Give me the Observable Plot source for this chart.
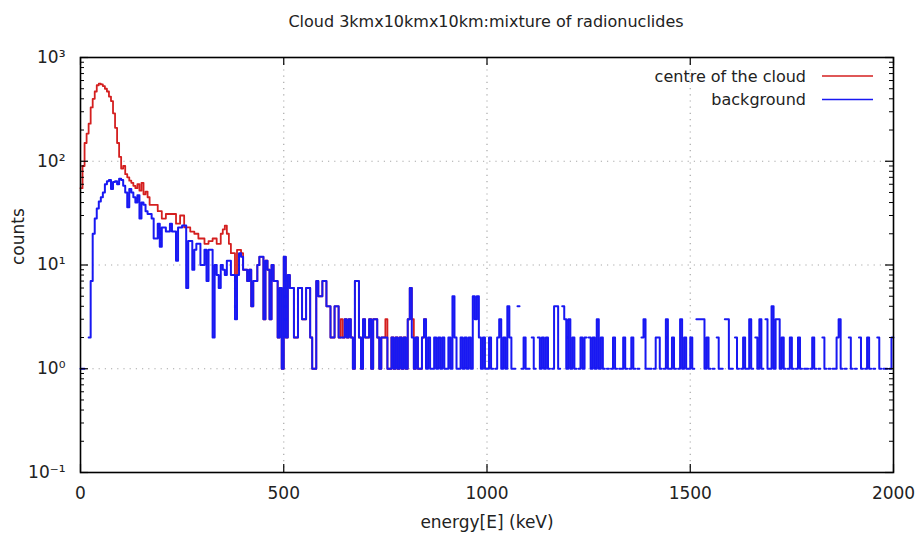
<!DOCTYPE html>
<html><head><meta charset="utf-8">
<script src="https://cdn.jsdelivr.net/npm/d3@7"></script>
<script src="https://cdn.jsdelivr.net/npm/@observablehq/plot@0.6"></script>
<style>
body{margin:0;background:#fff;font-family:"DejaVu Sans",sans-serif;}
#wrap{position:relative;width:919px;height:542px;overflow:hidden;}
#title{position:absolute;top:12px;left:486px;transform:translateX(-50%);font-size:16px;line-height:20px;white-space:nowrap;color:#222;}
#chart{position:absolute;top:40px;left:0;}
</style></head><body>
<div id="wrap"><div id="title">Cloud 3kmx10kmx10km:mixture of radionuclides</div><div id="chart"></div></div>
<script>
// bin width in keV
const BIN = 5;

// "centre of the cloud" counts, 0–500 keV (5 keV bins)
const redHead = [
  55,90,150,185,230,330,400,470,540,560,
  550,530,500,470,420,380,290,210,150,110,
  85,90,75,70,65,62,58,55,60,52,
  62,48,51,45,38,38,38,38,33,33,
  28,28,31,31,31,31,31,25,25,30,
  30,23,23,23,21,21,20,20,18,18,
  18,16,16,17,17,18,18,16,16,20,
  22,24,20,16,13,13,5,14,14,13,
  9,9,7,9,4,7,7,10,12,12,
  3,11,9,3,10,7,7,2,6,1
];
// "centre of the cloud" counts, 500–850 keV
const redTail = [
  12,2,8,6,6,2,2,6,6,3,
  3,6,6,2,1,1,7,5,5,7,
  7,4,4,2,2,4,4,2,3,2,
  3,2,3,2,1,7,7,2,1,3,
  2,2,3,1,3,3,2,1,2,2,
  3,1,1,2,1,2,1,2,1,2,
  1,3,6,3,1,2,1,1,2,3
];
// "background" counts, 0–500 keV
const blueHead = [
  1,1,0,0,2,7,20,28,35,41,
  45,50,60,64,66,54,63,64,60,68,
  66,58,50,36,54,50,45,40,47,28,
  40,38,33,31,31,28,18,18,25,15,
  23,23,21,21,25,21,21,11,23,23,
  24,24,6,17,17,9,14,16,16,10,
  10,14,7,14,14,2,10,8,6,10,
  9,8,11,11,8,8,3,8,13,12,
  9,9,7,9,4,7,7,10,12,12,
  3,11,9,3,10,7,7,2,6,1
];
// "background" counts, 500–2000 keV
const blueTail = [
  12,2,8,6,6,2,2,6,6,3,
  3,6,6,2,1,1,7,5,5,7,
  7,4,4,2,2,4,4,2,2,2,
  3,2,3,2,1,7,7,2,1,3,
  2,2,3,1,3,3,2,1,2,2,
  2,1,1,2,1,2,1,2,1,2,
  1,3,6,2,1,2,1,1,2,3,
  1,2,1,1,2,1,2,1,2,1,
  1,2,1,5,2,1,1,2,1,2,
  1,2,1,5,3,5,2,1,2,1,
  1,2,1,0,1,2,3,1,2,1,
  4,2,1,1,0,4,0,1,2,1,
  1,0,2,1,0,2,1,2,1,2,
  1,0,1,4,4,1,0,4,3,1,
  3,1,2,1,0,1,2,1,2,0,
  2,1,2,1,3,1,2,1,0,1,
  0,1,2,1,0,1,1,2,1,0,
  1,2,1,0,1,0,2,3,1,1,
  1,0,1,2,2,1,0,1,3,1,
  1,2,1,0,1,3,1,2,1,1,
  2,1,0,3,3,3,3,1,2,1,
  0,1,0,2,1,1,0,3,3,1,
  1,0,2,1,0,1,2,1,1,3,
  1,0,2,1,3,1,0,3,1,1,
  4,1,3,3,1,2,1,0,1,2,
  1,0,1,2,1,0,1,1,0,1,
  2,1,0,1,0,2,1,0,1,0,
  1,1,2,3,1,0,1,0,2,1,
  0,1,0,2,1,0,1,2,1,0,
  1,0,2,1,0,1,1,0,1,2
];

const seriesNames = ["centre of the cloud", "background"];
const seriesColors = ["#d41f1f", "#1818f2"];

const xTicks = [0, 500, 1000, 1500, 2000];
const xGrid = [500, 1000, 1500];
const yTicks = [0.1, 1, 10, 100, 1000];
const yTickLabels = ["10⁻¹", "10⁰", "10¹", "10²", "10³"];
const yGrid = [1, 10, 100];
const yMinor = [0.2,0.3,0.4,0.5,0.6,0.7,0.8,0.9, 2,3,4,5,6,7,8,9, 20,30,40,50,60,70,80,90, 200,300,400,500,600,700,800,900];

function toSteps(counts, start) {
  return counts.flatMap((c, i) => {
    const e0 = start + i * BIN, v = c > 0 ? c : NaN;
    return [{e: e0, c: v}, {e: e0 + BIN, c: v}];
  });
}
const redSteps = toSteps(redHead, 0).concat(toSteps(redTail, 500));
const blueSteps = toSteps(blueHead, 0).concat(toSteps(blueTail, 500));

const W = 919, H = 502, mL = 80, mR = 26, mT = 17, mB = 70;
const iW = W - mL - mR, iH = H - mT - mB;
const grid = {stroke: "#a8a8a8", strokeOpacity: 1, strokeDasharray: "1.2,5", strokeWidth: 1.2};
const fmt = new Map(yTicks.map((t, i) => [t, yTickLabels[i]]));

const plot = Plot.plot({
  width: W, height: H,
  marginLeft: mL, marginRight: mR, marginTop: mT, marginBottom: mB,
  style: {fontFamily: "DejaVu Sans, sans-serif", fontSize: "17px", color: "#222", background: "#fff"},
  x: {domain: [0, 2000]},
  y: {type: "log", domain: [0.1, 1000]},
  marks: [
    Plot.gridX(xGrid, grid),
    Plot.gridY(yGrid, grid),
    Plot.line(redSteps, {x: "e", y: "c", stroke: seriesColors[0], strokeWidth: 1.8}),
    Plot.line(blueSteps, {x: "e", y: "c", stroke: seriesColors[1], strokeWidth: 2}),
    Plot.tickX(xTicks, {x: d => d, insetTop: iH - 8, stroke: "#000", strokeWidth: 1.2}),
    Plot.tickX(xTicks, {x: d => d, insetBottom: iH - 8, stroke: "#000", strokeWidth: 1.2}),
    Plot.tickY(yTicks, {y: d => d, insetRight: iW - 8, stroke: "#000", strokeWidth: 1.2}),
    Plot.tickY(yTicks, {y: d => d, insetLeft: iW - 8, stroke: "#000", strokeWidth: 1.2}),
    Plot.tickY(yMinor, {y: d => d, insetRight: iW - 4, stroke: "#000", strokeWidth: 1}),
    Plot.tickY(yMinor, {y: d => d, insetLeft: iW - 4, stroke: "#000", strokeWidth: 1}),
    Plot.frame({stroke: "#000", strokeWidth: 1.6}),
    Plot.axisX({ticks: xTicks, tickSize: 0, tickPadding: 14, label: null, fontSize: 17, tickFormat: d => String(d)}),
    Plot.axisY({ticks: yTicks, tickSize: 0, tickPadding: 15, label: null, tickFormat: d => fmt.get(d), fontSize: 17}),
    Plot.text(["energy[E] (keV)"], {frameAnchor: "bottom", dy: 55, fontSize: 17, fill: "#222"}),
    Plot.text(["counts"], {frameAnchor: "left", dx: -62, rotate: -90, fontSize: 17, fill: "#222"})
  ]
});
document.getElementById("chart").appendChild(plot);

// legend inside the plot, top right
const svg = d3.select(plot);
const lg = svg.append("g").attr("font-size", 16).attr("fill", "#222");
seriesNames.forEach((name, i) => {
  const y = 36 + i * 23.5;
  lg.append("text").attr("x", 806).attr("y", y).attr("text-anchor", "end").attr("dy", "0.35em").text(name);
  lg.append("line").attr("x1", 822).attr("x2", 873).attr("y1", y).attr("y2", y)
    .attr("stroke", seriesColors[i]).attr("stroke-width", 1.6);
});
</script>
</body></html>
